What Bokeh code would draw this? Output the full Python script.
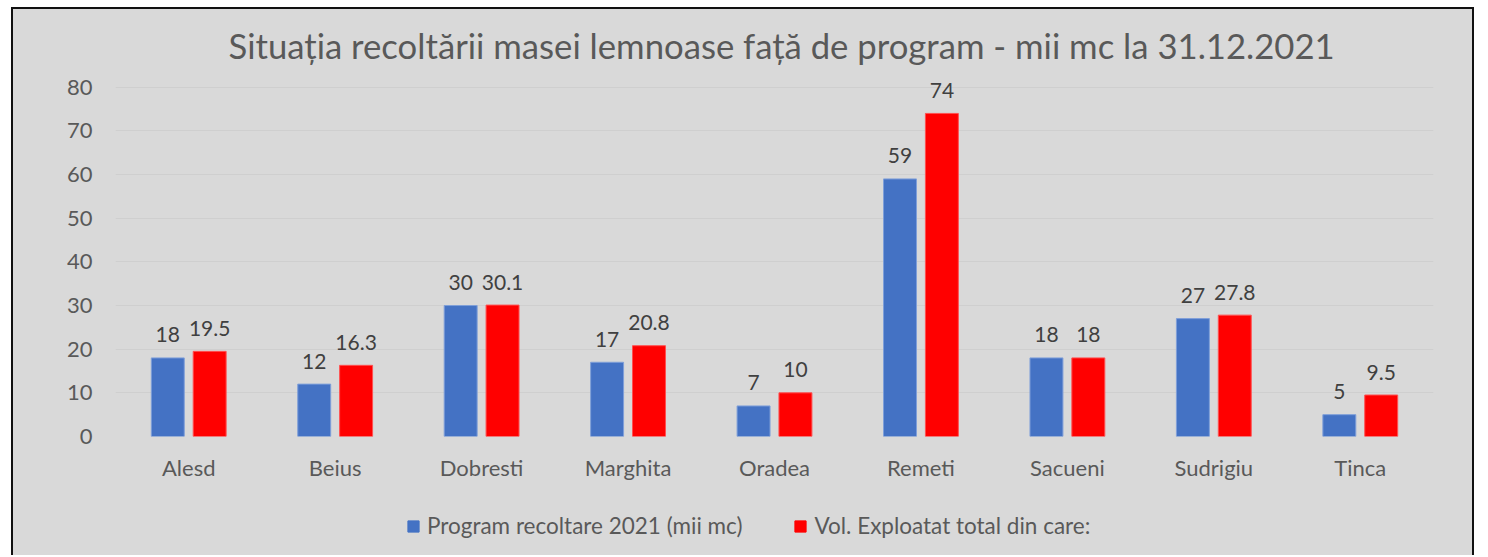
from bokeh.plotting import figure
from bokeh.models import FactorRange, FixedTicker, Legend, LegendItem, ColumnDataSource
from bokeh.layouts import column
from bokeh.transform import dodge
from bokeh.core.properties import value
from bokeh.embed import file_html
from bokeh.resources import INLINE

categories = ["Alesd", "Beius", "Dobresti", "Marghita", "Oradea", "Remeti", "Sacueni", "Sudrigiu", "Tinca"]
program = [18, 12, 30, 17, 7, 59, 18, 27, 5]
exploatat = [19.5, 16.3, 30.1, 20.8, 10, 74, 18, 27.8, 9.5]
program_labels = ["18", "12", "30", "17", "7", "59", "18", "27", "5"]
exploatat_labels = ["19.5", "16.3", "30.1", "20.8", "10", "74", "18", "27.8", "9.5"]
y_ticks = [0, 10, 20, 30, 40, 50, 60, 70, 80]
title_text = "Situația recoltării masei lemnoase față de program - mii mc la 31.12.2021"
series_names = ["Program recoltare 2021 (mii mc)", "Vol. Exploatat total din care:"]

FONT = "Lato"
BG = "#D9D9D9"
TXT = "#595959"
BLUE = "#4472C4"
RED = "#FF0000"
W = 1459

src = ColumnDataSource(dict(cat=categories, program=program, exploatat=exploatat,
                            pl=program_labels, el=exploatat_labels))

p = figure(x_range=FactorRange(*categories), y_range=(0, 82),
           width=W, height=490, output_backend="svg", toolbar_location=None,
           min_border_left=102, min_border_right=39, min_border_top=69, min_border_bottom=63,
           background_fill_color=None, border_fill_color=None, outline_line_color=None)

p.title.text = title_text
p.title.align = "left"
p.title.offset = 113
p.title.text_font = FONT
p.title.text_font_size = "34.7px"
p.title.text_font_style = "normal"
p.title.text_color = TXT
p.title.standoff = 26

r1 = p.vbar(x=dodge("cat", -0.143, range=p.x_range), top="program", width=0.225, source=src,
            fill_color=BLUE, line_color="#7F9FD9", line_width=1)
r2 = p.vbar(x=dodge("cat", 0.143, range=p.x_range), top="exploatat", width=0.225, source=src,
            fill_color=RED, line_color="#FF5050", line_width=1)

p.text(x=dodge("cat", -0.143, range=p.x_range), y="program", text="pl", source=src,
       text_align="center", text_baseline="alphabetic", y_offset=-23,
       text_font=value(FONT), text_font_size="21px", text_color="#404040")
p.text(x=dodge("cat", 0.143, range=p.x_range), y="exploatat", text="el", source=src,
       text_align="center", text_baseline="alphabetic", y_offset=-23,
       text_font=value(FONT), text_font_size="21px", text_color="#404040")

p.xgrid.grid_line_color = None
p.ygrid.grid_line_color = "#CFCFCF"
p.ygrid.grid_line_width = 1
p.yaxis.ticker = FixedTicker(ticks=y_ticks)

for ax in (p.xaxis, p.yaxis):
    ax.axis_line_color = None
    ax.major_tick_line_color = None
    ax.minor_tick_line_color = None
    ax.major_label_text_font = FONT
    ax.major_label_text_font_size = "22px"
    ax.major_label_text_color = TXT
p.yaxis.major_label_standoff = 17
p.xaxis.major_label_standoff = 11

# legend strip below the chart
q = figure(x_range=(0, 1), y_range=(0, 1), width=W, height=56,
           output_backend="svg", toolbar_location=None,
           min_border_left=0, min_border_right=0, min_border_top=0, min_border_bottom=0,
           background_fill_color=None, border_fill_color=None, outline_line_color=None)
q.axis.visible = False
q.grid.visible = False
lr1 = q.vbar(x=[0.5], top=[1], width=0.1, fill_color=BLUE, line_color=BLUE, visible=False)
lr2 = q.vbar(x=[0.5], top=[1], width=0.1, fill_color=RED, line_color=RED, visible=False)

legend = Legend(items=[LegendItem(label=series_names[0], renderers=[lr1]),
                       LegendItem(label=series_names[1], renderers=[lr2])],
                orientation="horizontal", location=(291, 16),
                background_fill_alpha=0, border_line_color=None,
                inactive_fill_alpha=0,
                label_text_font=FONT, label_text_font_size="22.5px", label_text_color=TXT,
                glyph_width=14, glyph_height=14, label_standoff=7, spacing=51,
                padding=0, margin=0, label_height=20)
q.add_layout(legend, "center")

layout = column(p, q, spacing=0, margin=(7, 0, 0, 11),
                styles={"background-color": BG,
                        "border-top": "2px solid #111111", "border-left": "2px solid #111111",
                        "border-right": "2px solid #111111"})

open("out.html", "w").write(file_html(layout, INLINE))
